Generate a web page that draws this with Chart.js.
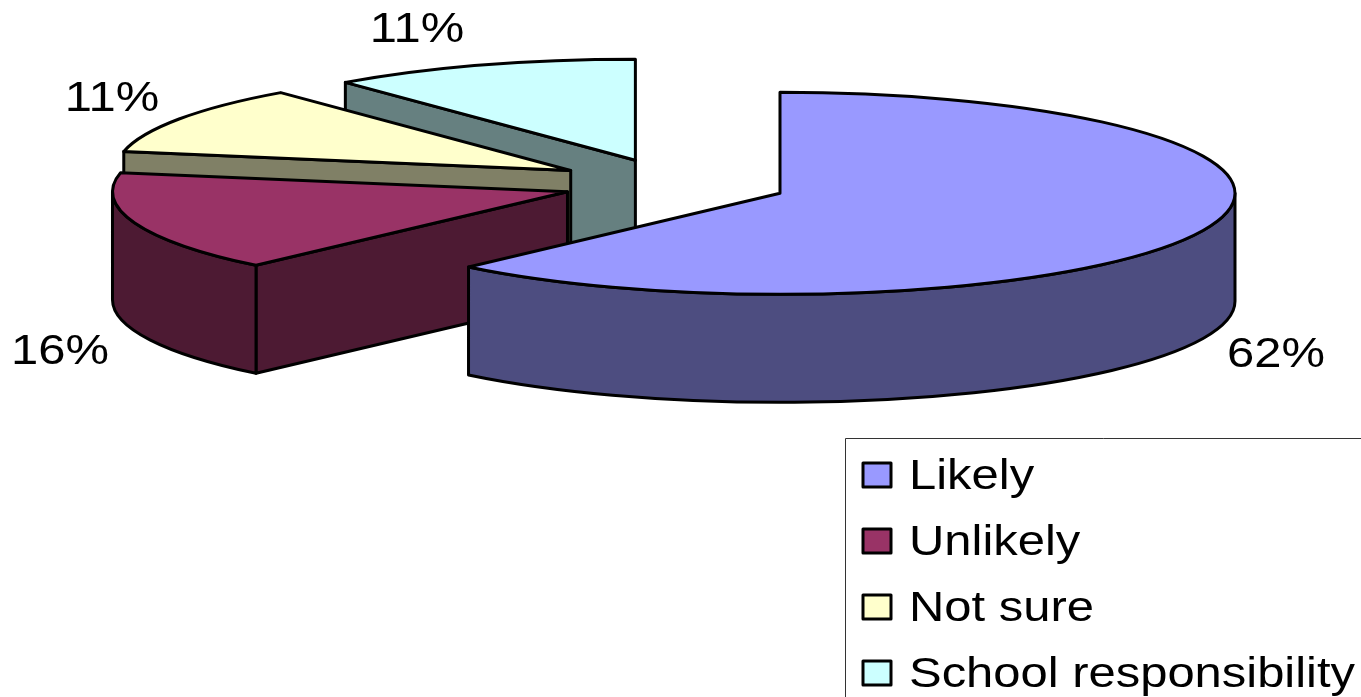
<!DOCTYPE html>
<html>
<head>
<meta charset="utf-8">
<title>Pie</title>
<script src="https://cdn.jsdelivr.net/npm/chart.js@4"></script>
<style>
  html, body { margin: 0; padding: 0; background: #fff; overflow: hidden; }
  canvas { display: block; }
</style>
</head>
<body>
<canvas id="myPieChart" width="1361" height="697"></canvas>
<script>
var categories = ["Likely", "Unlikely", "Not sure", "School responsibility"];
var percents = [62, 16, 11, 11];
var topColors = ["#9999ff", "#993366", "#ffffcc", "#ccffff"];
var sideColors = ["#4d4d80", "#4d1a33", "#808066", "#668080"];

var flatten = 0.222;   // squash the round pie into an ellipse
var depth = 108;       // height of the pie walls
var explode = [114, 112, 120, 114];
var labelSpots = [[1276, 367], [60, 364], [112, 111], [417, 42]];
var labelFont = '42px "Liberation Sans"';
var textStretch = 1.165;   // the text in the picture is wider than the font
var lineW = 3;

function apex(arc, i) {
  var mid = (arc.startAngle + arc.endAngle) / 2;
  return {
    x: arc.x + Math.cos(mid) * explode[i],
    y: arc.y + Math.sin(mid) * explode[i] * flatten
  };
}

function outline(ctx, color) {
  ctx.fillStyle = color;
  ctx.fill();
  ctx.strokeStyle = "#000";
  ctx.lineWidth = lineW;
  ctx.lineJoin = "round";
  ctx.stroke();
}

function cutWall(ctx, p, arc, angle, color) {
  var ex = p.x + Math.cos(angle) * arc.outerRadius;
  var ey = p.y + Math.sin(angle) * arc.outerRadius * flatten;
  ctx.beginPath();
  ctx.moveTo(p.x, p.y);
  ctx.lineTo(ex, ey);
  ctx.lineTo(ex, ey + depth);
  ctx.lineTo(p.x, p.y + depth);
  ctx.closePath();
  outline(ctx, color);
}

function stretchedText(ctx, text, x, y) {
  ctx.save();
  ctx.translate(x, y);
  ctx.scale(textStretch, 1);
  ctx.fillText(text, 0, 0);
  ctx.restore();
}

var pie3d = {
  id: "pie3d",
  beforeDatasetDraw: function (chart) {
    var ctx = chart.ctx;
    var arcs = chart.getDatasetMeta(0).data;
    // back slices first, the front ones paint over them
    for (var i = arcs.length - 1; i >= 0; i--) {
      var arc = arcs[i];
      var p = apex(arc, i);
      var r = arc.outerRadius;
      // only the cut side turned to the viewer shows
      if (Math.cos(arc.startAngle) < -0.001) {
        cutWall(ctx, p, arc, arc.startAngle, sideColors[i]);
      }
      if (Math.cos(arc.endAngle) > 0.001) {
        cutWall(ctx, p, arc, arc.endAngle, sideColors[i]);
      }

      var from = Math.max(arc.startAngle, 0);
      var to = Math.min(arc.endAngle, Math.PI);
      if (to > from) {
        ctx.beginPath();
        ctx.ellipse(p.x, p.y, r, r * flatten, 0, from, to);
        ctx.ellipse(p.x, p.y + depth, r, r * flatten, 0, to, from, true);
        ctx.closePath();
        outline(ctx, sideColors[i]);
      }

      ctx.save();
      ctx.translate(p.x, p.y);
      ctx.scale(1, flatten);
      ctx.translate(-arc.x, -arc.y);
      arc.draw(ctx);
      ctx.restore();

      ctx.beginPath();
      ctx.moveTo(p.x, p.y);
      ctx.ellipse(p.x, p.y, r, r * flatten, 0, arc.startAngle, arc.endAngle);
      ctx.closePath();
      ctx.strokeStyle = "#000";
      ctx.lineWidth = lineW;
      ctx.lineJoin = "round";
      ctx.stroke();
    }
    return false;
  },
  afterDraw: function (chart) {
    var ctx = chart.ctx;
    var values = chart.data.datasets[0].data;
    ctx.save();
    ctx.fillStyle = "#000";
    ctx.font = labelFont;
    ctx.textBaseline = "alphabetic";

    ctx.textAlign = "center";
    values.forEach(function (v, i) {
      stretchedText(ctx, v + "%", labelSpots[i][0], labelSpots[i][1]);
    });

    // legend box runs off the right and bottom of the page
    ctx.strokeStyle = "#333";
    ctx.lineWidth = 1;
    ctx.beginPath();
    ctx.moveTo(845.5, 697);
    ctx.lineTo(845.5, 438.5);
    ctx.lineTo(1361, 438.5);
    ctx.stroke();

    ctx.textAlign = "left";
    chart.data.labels.forEach(function (name, i) {
      var y = 475 + i * 66;
      ctx.fillStyle = chart.data.datasets[0].backgroundColor[i];
      ctx.strokeStyle = "#000";
      ctx.lineWidth = 3;
      ctx.beginPath();
      ctx.rect(863, y - 12, 28, 24);
      ctx.fill();
      ctx.stroke();
      ctx.fillStyle = "#000";
      stretchedText(ctx, name, 909, y + 14);
    });
    ctx.restore();
  }
};

new Chart(document.getElementById("myPieChart"), {
  type: "pie",
  data: {
    labels: categories,
    datasets: [{
      data: percents,
      backgroundColor: topColors,
      borderWidth: 0,
      clip: false
    }]
  },
  options: {
    responsive: false,
    animation: false,
    radius: 455,
    layout: { padding: { left: 0, right: 13, top: 0, bottom: 329 } },
    plugins: {
      legend: { display: false },
      tooltip: { enabled: false }
    }
  },
  plugins: [pie3d]
});
</script>
</body>
</html>
